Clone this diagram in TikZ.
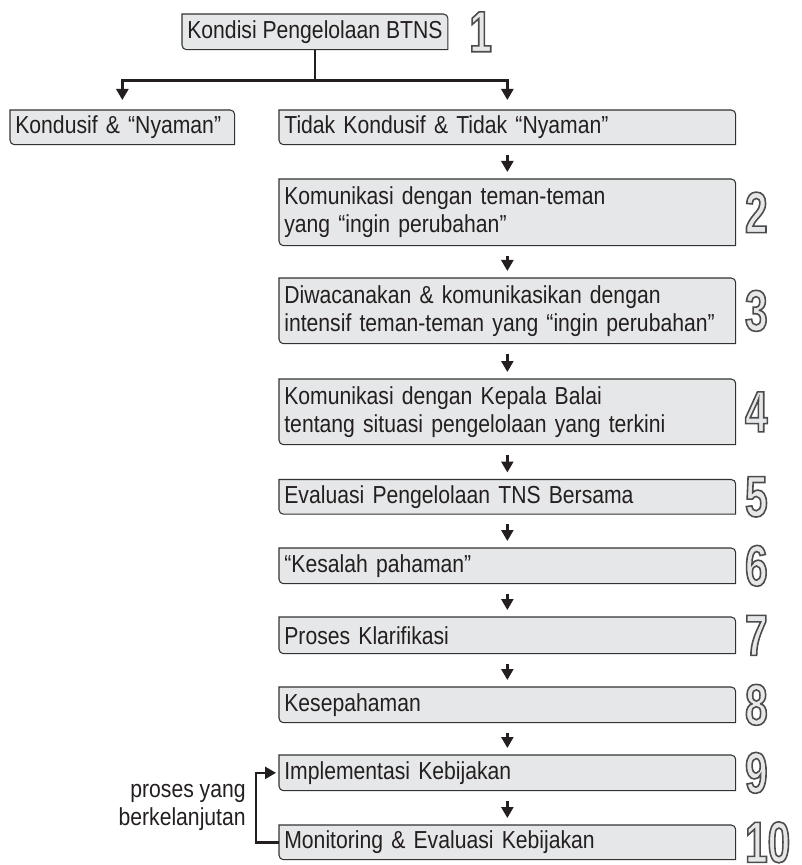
\documentclass[tikz,border=0pt]{standalone}
\usepackage{fontspec}
\setmainfont[FakeStretch=0.86]{Liberation Sans}
\newfontfamily\numfont[FakeStretch=0.7]{Liberation Sans Bold}
\usetikzlibrary{arrows.meta,positioning,backgrounds}

\definecolor{boxgray}{RGB}{230,231,232}
\definecolor{linegray}{RGB}{50,50,50}
\definecolor{inkblack}{RGB}{35,31,32}

% hollow digits for the step numbers
\newcommand{\hollow}[1]{{\color{boxgray}\special{pdf:literal direct 2 Tr 0.9 w 0.3 0.3 0.3 RG}#1\special{pdf:literal direct 0 Tr}}}

% box outline: rounded top right and bottom left
\newcommand{\stepframe}[1]{%
  \filldraw[frame] (#1.north west) -- ([xshift=-0.09cm]#1.north east)
    arc[start angle=90, end angle=0, radius=0.09cm] -- (#1.south east)
    -- ([xshift=0.09cm]#1.south west)
    arc[start angle=270, end angle=180, radius=0.09cm] -- cycle;}

\tikzset{
  flowbox/.style={anchor=north west, inner xsep=0.1cm, inner ysep=0pt, align=left,
    minimum height=0.7cm, text=inkblack, font=\fontsize{14}{16}\selectfont},
  wide/.style={flowbox, text width=8.92cm},
  frame/.style={draw=linegray, fill=boxgray, line width=0.6pt},
  link/.style={draw=inkblack, line width=1.4pt},
  flowarrow/.style={link, -{Triangle[width=0.24cm,length=0.22cm]}},
  stepnum/.style={inner sep=0pt, font=\numfont\fontsize{33}{33}\selectfont}
}

\begin{document}
\begin{tikzpicture}
\useasboundingbox (0,0) rectangle (16.02,-17.30);

\node[flowbox, minimum width=5.26cm] (top) at (3.64,-0.28) {Kondisi Pengelolaan BTNS};
\node[flowbox, text width=4.28cm, minimum height=0.68cm] (kond) at (0.20,-2.20) {Kondusif \& “Nyaman”};
\node[wide, minimum height=0.68cm] (tidak) at (5.58,-2.20) {Tidak Kondusif \& Tidak “Nyaman”};
\node[wide, minimum height=1.32cm] (b2) at (5.58,-3.58) {Komunikasi dengan teman-teman\\yang “ingin perubahan”};
\node[wide, minimum height=1.30cm] (b3) at (5.58,-5.56) {Diwacanakan \& komunikasikan dengan\\intensif teman-teman yang “ingin perubahan”};
\node[wide, minimum height=1.30cm] (b4) at (5.58,-7.58) {Komunikasi dengan Kepala Balai\\tentang situasi pengelolaan yang terkini};
\node[wide, minimum height=0.68cm] (b5) at (5.58,-9.59) {Evaluasi Pengelolaan TNS Bersama};
\node[wide] (b6) at (5.58,-10.96) {“Kesalah pahaman”};
\node[wide, minimum height=0.72cm] (b7) at (5.58,-12.34) {Proses Klarifikasi};
\node[wide] (b8) at (5.58,-13.74) {Kesepahaman};
\node[wide] (b9) at (5.58,-15.10) {Implementasi Kebijakan};
\node[wide, minimum height=0.68cm] (b10) at (5.58,-16.50) {Monitoring \& Evaluasi Kebijakan};

\begin{scope}[on background layer]
\foreach \n in {top,kond,tidak,b2,b3,b4,b5,b6,b7,b8,b9,b10}
  \stepframe{\n};
\end{scope}

% step numbers
\node[stepnum, right=0.42cm of top] (n1) {\hollow{1}};
\foreach \n in {2,...,10}
  \node[stepnum, right=0.18cm of b\n] (n\n) {\hollow{\n}};

% branching from the top box
\draw[link] (top.south) -- ++(0,-0.62) coordinate (split);
\draw[flowarrow, shorten >=0.2cm] (split) -| (kond.north);
\draw[flowarrow, shorten >=0.2cm] (split) -| (tidak.north);

% main chain
\foreach \a/\b in {tidak/b2,b2/b3,b3/b4,b4/b5,b5/b6,b6/b7,b7/b8,b8/b9,b9/b10}
  \draw[flowarrow, shorten <=0.2cm, shorten >=0.14cm] (\a.south) -- (\b.north);

% feedback loop
\draw[flowarrow, shorten >=0.06cm] (b10.west) -- ++(-0.46,0) coordinate (loop) |- (b9.west);
\node[anchor=east, align=right, inner sep=0pt, text=inkblack,
  font=\fontsize{14}{16}\selectfont] (note) at ([xshift=-0.2cm,yshift=0.7cm]loop) {proses yang\\berkelanjutan};
\end{tikzpicture}
\end{document}
